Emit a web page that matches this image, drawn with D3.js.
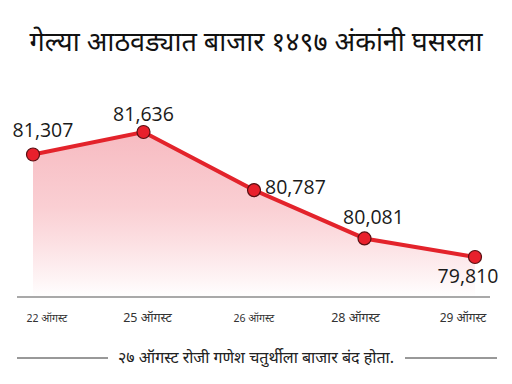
<!DOCTYPE html>
<html>
<head>
<meta charset="utf-8">
<script src="https://cdn.jsdelivr.net/npm/d3@7"></script>
<style>
  body { margin: 0; background: #fff; }
  svg { display: block; }
</style>
</head>
<body>
<div id="chart"></div>
<script>
var dates = ['22 ऑगस्ट', '25 ऑगस्ट', '26 ऑगस्ट', '28 ऑगस्ट', '29 ऑगस्ट'];
var values = [81307, 81636, 80787, 80081, 79810];
var valueLabels = ['81,307', '81,636', '80,787', '80,081', '79,810'];

var width = 512, height = 384;
var baseY = 297;

var svg = d3.select('#chart').append('svg')
    .attr('width', width)
    .attr('height', height);

var defs = svg.append('defs');
var grad = defs.append('linearGradient')
    .attr('id', 'fade')
    .attr('gradientUnits', 'userSpaceOnUse')
    .attr('x1', 0).attr('y1', 132).attr('x2', 0).attr('y2', baseY);
grad.append('stop').attr('offset', '0%').attr('stop-color', '#f6b3ba').attr('stop-opacity', 0.9);
grad.append('stop').attr('offset', '45%').attr('stop-color', '#f9c6cb').attr('stop-opacity', 0.85);
grad.append('stop').attr('offset', '100%').attr('stop-color', '#ffffff').attr('stop-opacity', 1);

var x = d3.scalePoint().domain(dates).range([33, 475]);
var y = d3.scaleLinear().domain([79810, 81636]).range([257, 132]);

// title
svg.append('text')
    .attr('x', 256)
    .attr('y', 51)
    .attr('text-anchor', 'middle')
    .style('font-family', '"Noto Sans", "Noto Sans Devanagari", sans-serif')
    .style('font-size', '27px')
    .style('font-weight', 'normal')
    .style('fill', '#111')
    .text('गेल्या आठवड्यात बाजार १४९७ अंकांनी घसरला');

// area
var area = d3.area()
    .x(function (d, i) { return x(dates[i]); })
    .y0(baseY)
    .y1(function (d) { return y(d); });

svg.append('path')
    .datum(values)
    .attr('d', area)
    .style('fill', 'url(#fade)');

// baseline
svg.append('line')
    .attr('x1', 17).attr('x2', 490)
    .attr('y1', baseY).attr('y2', baseY)
    .style('stroke', '#555')
    .style('stroke-width', 1.2);

// line
var line = d3.line()
    .x(function (d, i) { return x(dates[i]); })
    .y(function (d) { return y(d); });

svg.append('path')
    .datum(values)
    .attr('d', line)
    .style('fill', 'none')
    .style('stroke', '#e3232b')
    .style('stroke-width', 4);

svg.selectAll('.dot')
    .data(values)
    .enter()
    .append('circle')
    .attr('class', 'dot')
    .attr('cx', function (d, i) { return x(dates[i]); })
    .attr('cy', function (d) { return y(d); })
    .attr('r', 6.5)
    .style('fill', '#e8202c')
    .style('stroke', '#5a0f12')
    .style('stroke-width', 1.2);

// value labels: offsets per point
var offs = [[10, -18, 'middle'], [0, -11, 'middle'], [11, 4, 'start'], [9, -14, 'middle'], [-7, 26, 'middle']];
svg.selectAll('.val')
    .data(values)
    .enter()
    .append('text')
    .attr('class', 'val')
    .attr('x', function (d, i) { return x(dates[i]) + offs[i][0]; })
    .attr('y', function (d, i) { return y(d) + offs[i][1]; })
    .attr('text-anchor', function (d, i) { return offs[i][2]; })
    .style('font-family', '"Open Sans", "Noto Sans", sans-serif')
    .style('font-size', '19.5px')
    .style('fill', '#1a1a1a')
    .text(function (d, i) { return valueLabels[i]; });

// date labels
var dateSizes = [10.5, 12.5, 10.5, 12.5, 12];
var dateShift = [14, 4, 0, -9, -12];
svg.selectAll('.date')
    .data(dates)
    .enter()
    .append('text')
    .attr('class', 'date')
    .attr('x', function (d, i) { return x(d) + dateShift[i]; })
    .attr('y', 322)
    .attr('text-anchor', 'middle')
    .style('font-family', '"Noto Sans", sans-serif')
    .style('font-size', function (d, i) { return dateSizes[i] + 'px'; })
    .style('fill', '#333')
    .text(function (d) { return d; });

// footnote
svg.append('line')
    .attr('x1', 17).attr('x2', 108).attr('y1', 358).attr('y2', 358)
    .style('stroke', '#333').style('stroke-width', 1);
svg.append('line')
    .attr('x1', 405).attr('x2', 497).attr('y1', 358).attr('y2', 358)
    .style('stroke', '#333').style('stroke-width', 1);
svg.append('text')
    .attr('x', 256)
    .attr('y', 363)
    .attr('text-anchor', 'middle')
    .style('font-family', '"Noto Sans", sans-serif')
    .style('font-size', '16px')
    .style('fill', '#222')
    .text('२७ ऑगस्ट रोजी गणेश चतुर्थीला बाजार बंद होता.');
</script>
</body>
</html>
